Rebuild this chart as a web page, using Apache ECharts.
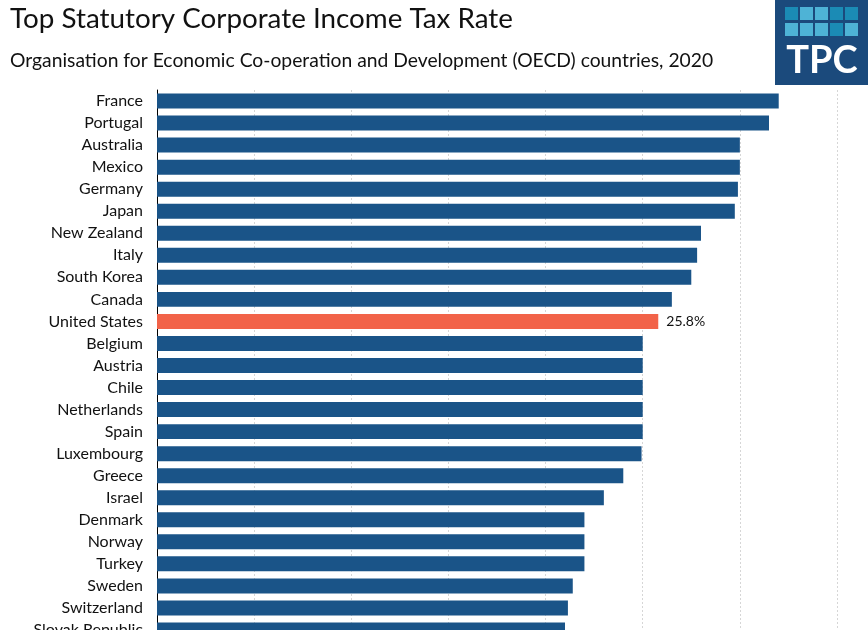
<!DOCTYPE html>
<html>
<head>
<meta charset="utf-8">
<script src="https://cdn.jsdelivr.net/npm/echarts@6/dist/echarts.min.js"></script>
<style>html,body{margin:0;padding:0;background:#fff;overflow:hidden}#wrap{width:868px;height:630px;overflow:hidden;position:relative}#c{width:868px;height:700px}</style>
</head>
<body>
<div id="wrap"><div id="c"></div></div>
<script>
const countries = ["France","Portugal","Australia","Mexico","Germany","Japan","New Zealand","Italy","South Korea","Canada","United States","Belgium","Austria","Chile","Netherlands","Spain","Luxembourg","Greece","Israel","Denmark","Norway","Turkey","Sweden","Switzerland","Slovak Republic"];
const rates = [32.0,31.5,30.0,30.0,29.9,29.74,28.0,27.8,27.5,26.5,25.8,25.0,25.0,25.0,25.0,25.0,24.94,24.0,23.0,22.0,22.0,22.0,21.4,21.15,21.0];
const highlight = "United States";
const xTicks = [0,5,10,15,20,25,30,35];

const FONT = 'Lato, "Open Sans", sans-serif';
const chart = echarts.init(document.getElementById('c'));
const logoSquares = [
  [0,0,'#1b8bb5'],[1,0,'#4eb3d6'],[2,0,'#4eb3d6'],[3,0,'#1b8bb5'],[4,0,'#1b8bb5'],
  [0,1,'#4eb3d6'],[1,1,'#4eb3d6'],[2,1,'#4eb3d6'],[3,1,'#1b8bb5'],[4,1,'#4eb3d6']
];
const graphics = [
  {type:'text', left:10, top:5, style:{text:'Top Statutory Corporate Income Tax Rate', font:'27.8px '+FONT, fill:'#111'}},
  {type:'text', left:10, top:51, style:{text:'Organisation for Economic Co-operation and Development (OECD) countries, 2020', font:'19.3px '+FONT, fill:'#111'}},
  {type:'rect', shape:{x:775, y:0, width:93, height:85}, style:{fill:'#1b4a7c'}}
];
logoSquares.forEach(s => graphics.push({type:'rect', shape:{x:785 + s[0]*15, y:7 + s[1]*16, width:13, height:13}, style:{fill:s[2]}}));
graphics.push({type:'text', x:822, y:80, style:{text:'TPC', font:'bold 38px '+FONT, fill:'#fff', align:'center', verticalAlign:'bottom'}});

chart.setOption({
  animation:false,
  graphic: graphics,
  grid:{left:157, top:90, width:680, height:551, containLabel:false},
  xAxis:{type:'value', min:xTicks[0], max:xTicks[xTicks.length-1], interval:5,
    axisLine:{show:false}, axisTick:{show:false}, axisLabel:{show:false},
    splitLine:{show:true, lineStyle:{color:'#d6d6d6', type:[2,2], width:1}}},
  yAxis:{type:'category', inverse:true, data:countries,
    axisLine:{show:true, lineStyle:{color:'#000', width:1}}, axisTick:{show:false},
    axisLabel:{interval:0, margin:14, fontFamily:FONT, fontSize:16, color:'#111'}},
  series:[{type:'bar', barCategoryGap:'32%',
    data: rates.map((v,i) => countries[i]===highlight
      ? {value:v, itemStyle:{color:'#f26349'}, label:{show:true, position:'right', distance:8, formatter:v.toFixed(1)+'%', fontFamily:FONT, fontSize:14, color:'#111'}}
      : {value:v, itemStyle:{color:'#1a5488'}})
  }]
});
</script>
</body>
</html>
